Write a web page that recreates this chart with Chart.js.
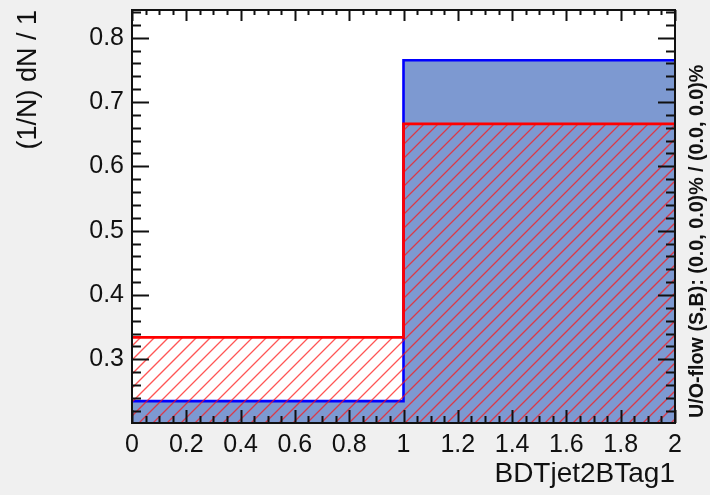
<!DOCTYPE html>
<html>
<head>
<meta charset="utf-8">
<script src="https://cdn.jsdelivr.net/npm/chart.js@4"></script>
<style>
  html, body { margin: 0; padding: 0; background: #f0f0f0; }
  canvas { display: block; }
</style>
</head>
<body>
<canvas id="bdt" width="710" height="495"></canvas>
<script>
// bin edges and normalised contents for BDTjet2BTag1
const binEdges = [0, 1, 2];
const signal = [0.235, 0.765];      // S, blue filled
const background = [0.334, 0.666];  // B, red hatched
const xTickStep = 0.2;
const yTickStep = 0.1;
const overflowNote = 'U/O-flow (S,B): (0.0, 0.0)% / (0.0, 0.0)%';

const FONT = '"Liberation Sans", Arial, Helvetica, sans-serif';

// histogram outline: one point per bin edge, last bin repeated to close it
function stepPoints(vals) {
  return binEdges.map((x, i) => ({ x: x, y: vals[Math.min(i, vals.length - 1)] }));
}

// red 45 degree hatching (ROOT fill style 3354) under the outline of a dataset,
// drawn just before that dataset's line so the outline stays on top
const hatching = {
  id: 'hatching',
  beforeDatasetDraw(chart, args) {
    const ds = chart.data.datasets[args.index];
    if (!ds.hatch) return;
    const { ctx, chartArea: a } = chart;
    const pts = args.meta.data;
    if (!pts.length) return;
    ctx.save();
    ctx.beginPath();
    ctx.moveTo(pts[0].x, a.bottom);
    ctx.lineTo(pts[0].x, pts[0].y);
    for (let i = 1; i < pts.length; i++) {
      ctx.lineTo(pts[i].x, pts[i - 1].y);
      ctx.lineTo(pts[i].x, pts[i].y);
    }
    ctx.lineTo(pts[pts.length - 1].x, a.bottom);
    ctx.closePath();
    ctx.clip();
    const h = a.bottom - a.top;
    ctx.strokeStyle = ds.hatch;
    ctx.lineWidth = 1.3;
    ctx.beginPath();
    for (let k = a.left - h; k < a.right + 14; k += 14) {
      ctx.moveTo(k, a.bottom);
      ctx.lineTo(k + h, a.top);
    }
    ctx.stroke();
    ctx.restore();
  }
};

// white pad, frame, ROOT-style inward ticks and the overflow note
const frame = {
  id: 'frame',
  beforeDraw(chart) {
    const { ctx, chartArea: a } = chart;
    ctx.save();
    ctx.fillStyle = '#ffffff';
    ctx.fillRect(a.left, a.top, a.right - a.left, a.bottom - a.top);
    ctx.restore();
  },
  afterDatasetsDraw(chart) {
    const { ctx, chartArea: a, scales } = chart;
    const xs = scales.x, ys = scales.y;
    ctx.save();
    ctx.strokeStyle = '#111';
    ctx.lineWidth = 2;
    ctx.beginPath();
    // x ticks, major every 0.2, minor every 0.05
    for (let i = 0; i <= 40; i++) {
      const v = i * 0.05;
      const px = Math.round(xs.getPixelForValue(v)) + 0.5;
      const major = i % 4 === 0;
      ctx.moveTo(px, a.bottom);
      ctx.lineTo(px, a.bottom - (major ? 13 : 7));
      ctx.moveTo(px, a.top);
      ctx.lineTo(px, a.top + (major ? 11 : 5));
    }
    // y ticks, major every 0.1, minor every 0.02
    for (let i = 0; i <= 40; i++) {
      const v = 0.2 + i * 0.02;
      if (v < ys.min || v > ys.max) continue;
      const py = Math.round(ys.getPixelForValue(v)) + 0.5;
      const major = i % 5 === 0;
      ctx.moveTo(a.left, py);
      ctx.lineTo(a.left + (major ? 17 : 9), py);
      ctx.moveTo(a.right, py);
      ctx.lineTo(a.right - (major ? 17 : 9), py);
    }
    ctx.stroke();
    ctx.strokeRect(a.left, a.top, a.right - a.left, a.bottom - a.top);
    ctx.restore();
  },
  afterDraw(chart) {
    const ctx = chart.ctx;
    ctx.save();
    ctx.translate(698, 418);
    ctx.rotate(-Math.PI / 2);
    ctx.fillStyle = '#111';
    ctx.font = 'bold 19.7px ' + FONT;
    ctx.textAlign = 'left';
    ctx.textBaseline = 'middle';
    ctx.fillText(overflowNote, 0, 0);
    ctx.restore();
  }
};

// ROOT prints 1 and 2, not 1.0 and 2.0
const plainNumber = v => String(Number(v.toFixed(2)));

new Chart(document.getElementById('bdt').getContext('2d'), {
  type: 'line',
  data: {
    datasets: [
      {
        label: 'B',
        data: stepPoints(background),
        stepped: true,
        borderColor: '#ff0000',
        borderWidth: 2.8,
        fill: false,
        hatch: 'rgba(255, 20, 20, 0.72)',
        pointRadius: 0
      },
      {
        label: 'S',
        data: stepPoints(signal),
        stepped: true,
        borderColor: '#0000ff',
        borderWidth: 2.6,
        backgroundColor: '#7d99d1',
        fill: 'start',
        pointRadius: 0
      }
    ]
  },
  options: {
    responsive: false,
    animation: false,
    devicePixelRatio: 1,
    layout: { padding: { top: 10, right: 35, left: 0, bottom: 0 } },
    plugins: {
      legend: { display: false },
      tooltip: { enabled: false }
    },
    scales: {
      x: {
        type: 'linear',
        min: 0,
        max: 2,
        afterFit(scale) {
          scale.height = 72;
          scale.paddingLeft = 0;
          scale.paddingRight = 0;
        },
        grid: { display: false, drawTicks: false },
        border: { display: false },
        ticks: {
          stepSize: xTickStep,
          autoSkip: false,
          maxRotation: 0,
          padding: 7,
          color: '#111',
          font: { family: FONT, size: 25 },
          callback: plainNumber
        },
        title: {
          display: true,
          text: 'BDTjet2BTag1',
          align: 'end',
          color: '#111',
          font: { family: FONT, size: 28 },
          padding: { top: 0, bottom: 4 }
        }
      },
      y: {
        min: 0.201,
        max: 0.843,
        afterFit(scale) {
          scale.width = 132;
          scale.paddingTop = 0;
          scale.paddingBottom = 0;
        },
        grid: { display: false, drawTicks: false },
        border: { display: false },
        ticks: {
          stepSize: yTickStep,
          includeBounds: false,
          padding: 8,
          color: '#111',
          font: { family: FONT, size: 25 },
          callback: plainNumber
        },
        title: {
          display: true,
          text: '(1/N) dN / 1',
          align: 'end',
          color: '#111',
          font: { family: FONT, size: 27 },
          padding: { top: 12, bottom: 0 }
        }
      }
    }
  },
  plugins: [hatching, frame]
});
</script>
</body>
</html>
